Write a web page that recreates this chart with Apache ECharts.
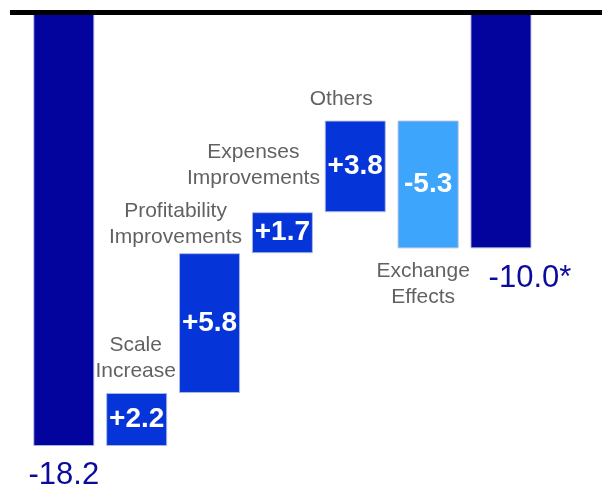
<!DOCTYPE html>
<html>
<head>
<meta charset="utf-8">
<script src="https://cdn.jsdelivr.net/npm/echarts@6/dist/echarts.min.js"></script>
<style>
  html, body { margin: 0; padding: 0; background: #fff; }
  #chart { width: 602px; height: 487px; }
</style>
</head>
<body>
<div id="chart"></div>
<script>
// Bridge from the opening total to the closing total
const categories = ['Start', 'Scale\nIncrease', 'Profitability\nImprovements', 'Expenses\nImprovements', 'Others', 'Exchange\nEffects', 'End'];
const startTotal = -18.2;
const steps = [2.2, 5.8, 1.7, 3.8, -5.3];
const endTotal = -10.0;
const endNote = '*';

// Colours and label placement
const COLOR_TOTAL = '#03039E';
const COLOR_UP = '#0535D8';
const COLOR_DOWN = '#3DA5FC';
const TEXT_GREY = '#3a3a3a';
const TEXT_NAVY = '#0B0B9C';
const FONT = '"Liberation Sans", Arial, sans-serif';
const stepLabelStyle = [
  { offset: [-1, 0], distance: 8 },
  { offset: [-34, 0], distance: 2 },
  { offset: [-29, 0], distance: 20 },
  { offset: [-14, 0], distance: 8 },
  { offset: [-5, 0], distance: 9 }
];

const round1 = v => Math.round(v * 10) / 10;

// Invisible base + visible segment for every bar
const baseData = [0];
const barData = [{ value: startTotal, itemStyle: { color: COLOR_TOTAL },
  label: { show: true, position: 'bottom', distance: 14, formatter: startTotal.toFixed(1),
           color: TEXT_NAVY, fontSize: 31, fontWeight: 'normal' } }];
const nameData = [];
let level = startTotal;
steps.forEach((s, i) => {
  const next = round1(level + s);
  const upper = Math.max(level, next);
  const lower = Math.min(level, next);
  baseData.push(upper);
  barData.push({
    value: round1(lower - upper),
    itemStyle: { color: s >= 0 ? COLOR_UP : COLOR_DOWN },
    label: { show: true, position: 'inside', formatter: (s > 0 ? '+' : '') + s.toFixed(1),
             color: '#ffffff', fontSize: 28, fontWeight: 'bold' }
  });
  const st = stepLabelStyle[i];
  nameData.push({
    value: [i + 1, s >= 0 ? upper : lower],
    label: { position: s >= 0 ? 'top' : 'bottom', offset: st.offset, distance: st.distance }
  });
  level = next;
});
baseData.push(0);
barData.push({ value: endTotal, itemStyle: { color: COLOR_TOTAL },
  label: { show: true, position: 'bottom', distance: 15, offset: [29, 0],
           formatter: endTotal.toFixed(1) + endNote,
           color: TEXT_NAVY, fontSize: 31, fontWeight: 'normal' } });

const chart = echarts.init(document.getElementById('chart'), null, { renderer: 'canvas' });
chart.setOption({
  animation: false,
  backgroundColor: '#ffffff',
  grid: { left: 27.4, right: 64.6, top: 7.3, bottom: 21.7 },
  xAxis: {
    type: 'category', data: categories, show: false
  },
  yAxis: {
    type: 'value', min: -19, max: 0, show: false
  },
  series: [
    {
      type: 'bar', stack: 'bridge', data: baseData, barWidth: 61,
      itemStyle: { color: 'transparent' }, silent: true
    },
    {
      type: 'bar', stack: 'bridge', data: barData, barWidth: 61,
      itemStyle: { borderColor: 'rgba(175,185,225,0.9)', borderWidth: 1 },
      label: { fontFamily: FONT }
    },
    {
      type: 'scatter', data: nameData, symbolSize: 1,
      itemStyle: { color: 'transparent' },
      label: {
        show: true, fontFamily: FONT, fontSize: 21, lineHeight: 26, color: TEXT_GREY,
        align: 'center',
        formatter: p => categories[p.value[0]]
      },
      z: 5
    }
  ],
  graphic: [
    // white margin above the heavy top rule
    { type: 'rect', shape: { x: 0, y: 0, width: 602, height: 10 },
      style: { fill: '#ffffff' }, z: 99 },
    // heavy top rule
    { type: 'rect', shape: { x: 10, y: 10, width: 592, height: 5 },
      style: { fill: '#000000' }, z: 100 }
  ]
});
</script>
</body>
</html>
